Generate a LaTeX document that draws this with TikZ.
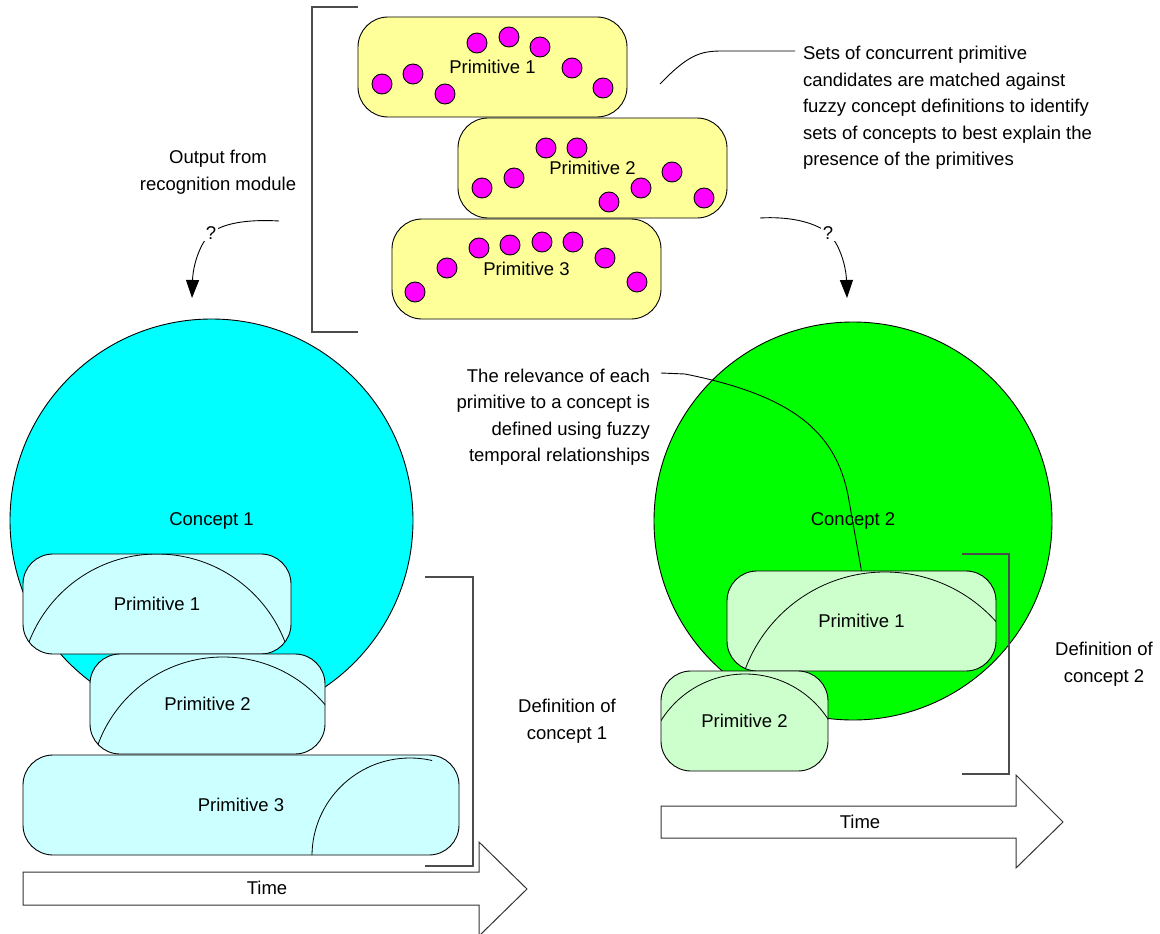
\documentclass[tikz,border=0pt]{standalone}
\usepackage{fontspec}
\setmainfont{Liberation Sans}
\usetikzlibrary{arrows.meta}

\definecolor{candfill}{HTML}{FFFF99}
\definecolor{eventdot}{HTML}{FF00FF}
\definecolor{conceptcyan}{HTML}{00FFFF}
\definecolor{primcyan}{HTML}{CCFFFF}
\definecolor{conceptgreen}{HTML}{00FF00}
\definecolor{primgreen}{HTML}{CCFFCC}

\begin{document}
\begin{tikzpicture}[x=1pt,y=-1pt,
  every node/.style={font=\fontsize{18.5}{26.5}\selectfont, inner sep=0pt, outer sep=0pt},
  outline/.style={draw=black, line width=0.9pt},
  candbox/.style={outline, rectangle, rounded corners=30pt, fill=candfill,
                  minimum width=269pt, minimum height=100pt},
  cyanbox/.style={outline, rectangle, rounded corners=30pt, fill=primcyan, minimum height=100pt},
  greenbox/.style={outline, rectangle, rounded corners=30pt, fill=primgreen, minimum height=100pt},
  evt/.style={outline, circle, fill=eventdot, minimum size=20pt},
  bracketline/.style={draw=black!70, line width=1.1pt},
  callout/.style={draw=black, line width=0.9pt},
  timearrow/.style={draw=black!80, line width=1pt, fill=white},
  flowarrow/.style={draw=black, line width=0.9pt, -{Triangle[length=18pt,width=13pt]}},
  fuzzyarc/.style={draw=black, line width=0.8pt},
  qmark/.style={fill=white, inner sep=1.5pt},
]
\useasboundingbox (0,0) rectangle (1160,934);

% ---------- candidate primitives from the recognition module ----------
\draw[bracketline] (358,7) -- (312,7) -- (312,332) -- (358,332);

\node[candbox] (cp1) at (492.5,67) {Primitive 1};
\node[candbox] (cp2) at (592.5,168) {Primitive 2};
\node[candbox] (cp3) at (526.5,269) {Primitive 3};

% events of primitive 1
\node[evt] (e11) at (382,84) {};
\node[evt] (e12) at (413,74) {};
\node[evt] (e13) at (445,94) {};
\node[evt] (e14) at (477,43) {};
\node[evt] (e15) at (509,37) {};
\node[evt] (e16) at (540,47) {};
\node[evt] (e17) at (572,68) {};
\node[evt] (e18) at (603,88) {};
% events of primitive 2
\node[evt] (e21) at (482,188) {};
\node[evt] (e22) at (514,178) {};
\node[evt] (e23) at (546,148) {};
\node[evt] (e24) at (577,148) {};
\node[evt] (e25) at (609,202) {};
\node[evt] (e26) at (641,188) {};
\node[evt] (e27) at (672,172) {};
\node[evt] (e28) at (704,198) {};
% events of primitive 3
\node[evt] (e31) at (415,292) {};
\node[evt] (e32) at (447,268) {};
\node[evt] (e33) at (479,248) {};
\node[evt] (e34) at (510,245) {};
\node[evt] (e35) at (542,242) {};
\node[evt] (e36) at (573,242) {};
\node[evt] (e37) at (605,258) {};
\node[evt] (e38) at (637,282) {};

\node[align=center] (outlabel) at (218,172) {Output from\\recognition module};

\node[anchor=west, align=left] (setstext) at (803,108)
  {Sets of concurrent primitive\\candidates are matched against\\fuzzy concept definitions to identify\\sets of concepts to best explain the\\presence of the primitives};
\coordinate (setsfoot) at (660,84);
\coordinate (setstip) at (795,51);
\draw[callout] (setsfoot) .. controls (688,55) and (700,51) .. (722,51) -- (setstip);

% ---------- concept 1 ----------
\node[outline, circle, fill=conceptcyan, minimum size=403pt] (c1) at (211.5,520.5) {Concept 1};

\node[cyanbox, minimum width=268pt] (c1p1) at (157,604) {Primitive 1};
\begin{scope}
  \clip[rounded corners=30pt] (c1p1.south west) rectangle (c1p1.north east);
  \draw[fuzzyarc] (157,691) circle[radius=137pt];
\end{scope}

\node[cyanbox, minimum width=235pt] (c1p2) at (207.5,704) {Primitive 2};
\begin{scope}
  \clip[rounded corners=30pt] (c1p2.south west) rectangle (c1p2.north east);
  \draw[fuzzyarc] (223,790) circle[radius=133pt];
\end{scope}

\node[cyanbox, minimum width=436pt] (c1p3) at (241,805) {Primitive 3};
\begin{scope}
  \clip[rounded corners=30pt] (c1p3.south west) rectangle (c1p3.north east);
  \clip (0,700) rectangle (432,900);
  \draw[fuzzyarc] (410,856) circle[radius=98pt];
\end{scope}

\draw[bracketline] (425,577) -- (473,577) -- (473,866) -- (425,866);
\node[align=center] (def1) at (567,721) {Definition of\\concept 1};

\draw[timearrow] (23,872) -- (479,872) -- (479,842) -- (527,889) -- (479,936) -- (479,905) -- (23,905) -- cycle;
\node (time1) at (267,888) {Time};

% ---------- concept 2 ----------
\node[outline, circle, fill=conceptgreen, minimum size=398pt] (c2) at (853,521) {Concept 2};

\node[greenbox, minimum width=269pt] (c2p1) at (861.5,621) {Primitive 1};
\begin{scope}
  \clip[rounded corners=30pt] (c2p1.south west) rectangle (c2p1.north east);
  \draw[fuzzyarc] (885,721) circle[radius=149pt];
\end{scope}

\node[greenbox, minimum width=167pt] (c2p2) at (744.5,721) {Primitive 2};
\begin{scope}
  \clip[rounded corners=30pt] (c2p2.south west) rectangle (c2p2.north east);
  \draw[fuzzyarc] (745,773) circle[radius=99pt];
\end{scope}

\node[anchor=east, align=right] (reltext) at (650,417)
  {The relevance of each\\primitive to a concept is\\defined using fuzzy\\temporal relationships};
\coordinate (relfoot) at (661,373);
\draw[callout] (relfoot) -- (685,374) .. controls (790,395) and (835,430) .. (848,495) -- (c2p1.north);

\draw[bracketline] (962,554) -- (1009,554) -- (1009,774) -- (962,774);
\node[align=center] (def2) at (1104,664) {Definition of\\concept 2};

\draw[timearrow] (661,806) -- (1016,806) -- (1016,775) -- (1063,822) -- (1016,868) -- (1016,838) -- (661,838) -- cycle;
\node (time2) at (860,822) {Time};

% ---------- candidate sets feed the concepts ----------
\coordinate (leftsrc) at (279,221);
\coordinate (leftin) at (192,298);
\coordinate (rightsrc) at (760,218);
\coordinate (rightin) at (847,298);
\draw[flowarrow] (leftsrc) .. controls (245,219) and (222,224) .. (211,233)
                 .. controls (200,243) and (193,265) .. (leftin);
\node[qmark] (q1) at (211,233) {?};
\draw[flowarrow] (rightsrc) .. controls (794,216) and (817,224) .. (828,233)
                 .. controls (839,243) and (846,265) .. (rightin);
\node[qmark] (q2) at (828,233) {?};

\end{tikzpicture}
\end{document}
